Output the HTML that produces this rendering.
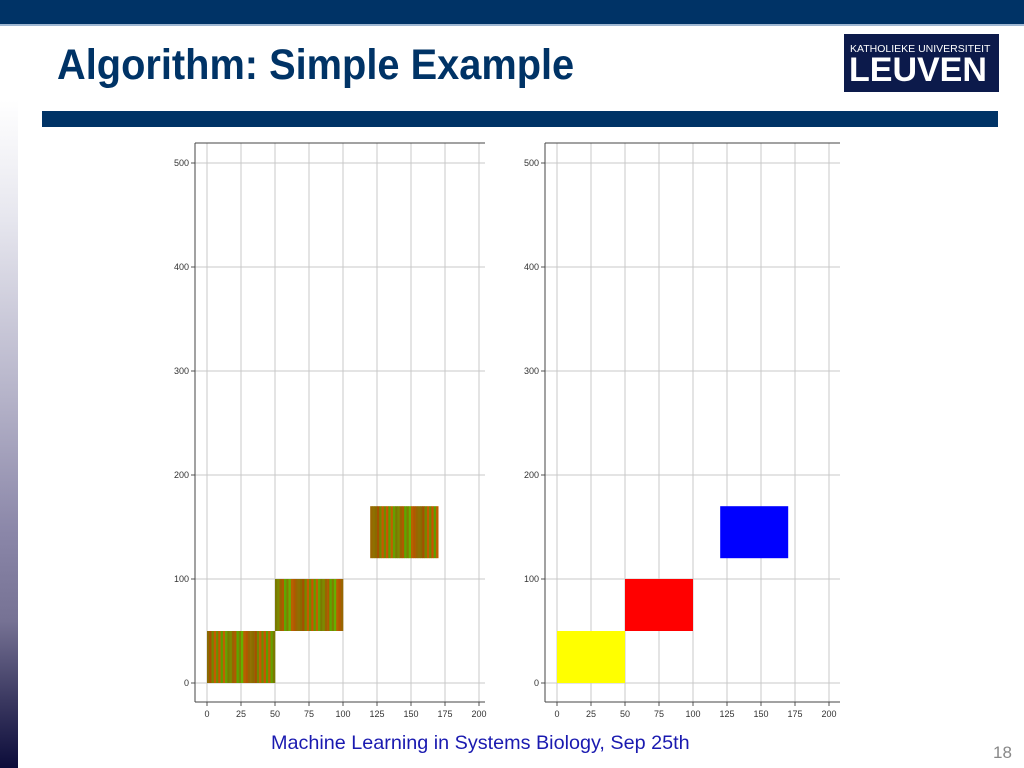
<!DOCTYPE html>
<html><head><meta charset="utf-8">
<style>
html,body{margin:0;padding:0;width:1024px;height:768px;overflow:hidden;background:#fff;font-family:"Liberation Sans",sans-serif;position:relative}
#topbar{position:absolute;left:0;top:0;width:1024px;height:24px;background:#003366;border-bottom:2px solid #9fb7d2}
#side{position:absolute;left:0;top:100px;width:18px;height:668px;background:linear-gradient(#ffffff 0%,#e6e6ee 18%,#b4b2c8 45%,#8a86a8 65%,#767294 78%,#3a3860 90%,#0c0c3a 100%)}
#title{position:absolute;left:57px;top:41px;font-size:43px;font-weight:bold;color:#003366;transform:scaleX(0.925);transform-origin:0 0;white-space:nowrap}
#logo{position:absolute;left:844px;top:34px;width:155px;height:58px;background:#0c1a4b;color:#fff}
#logo .a{position:absolute;left:6px;top:9px;font-size:10.5px}
#logo .b{position:absolute;left:5px;top:17px;font-size:34px;font-weight:bold}
#bar2{position:absolute;left:42px;top:111px;width:956px;height:16px;background:#003366}
#foot{position:absolute;left:271px;top:732px;font-size:19.8px;color:#1a1ab0;white-space:nowrap}
#pg{position:absolute;left:993px;top:743px;font-size:17px;color:#888}
svg{position:absolute;left:0;top:0}
</style></head><body>
<div id="topbar"></div>
<div id="side"></div>
<div id="title">Algorithm: Simple Example</div>
<div id="logo"><span class="a">KATHOLIEKE UNIVERSITEIT</span><span class="b">LEUVEN</span></div>
<div id="bar2"></div>
<svg id="chart" width="1024" height="768"></svg>
<div id="foot">Machine Learning in Systems Biology, Sep 25th</div>
<div id="pg">18</div>
<script>
const xTicks=[0,25,50,75,100,125,150,175,200];
const yTicks=[0,100,200,300,400,500];
const rectX0=[0,50,120];
const rectX1=[50,100,170];
const rectY0=[0,50,120];
const rectY1=[50,100,170];
const clusterColors=["#ffff00","#ff0000","#0000ff"];
const stripePattern=["#8a6a00","#c45a00","#5c9e00","#7a7a00","#b05a00","#66b000","#996600","#a55000","#6e8c00","#c06000","#7c8a00","#5aa800","#b86000","#8f7000","#728800","#c85400","#64a000","#9a6400","#7e8000","#b25800"];
const svg=document.getElementById('chart');
const NS='http://www.w3.org/2000/svg';
function mk(t,a){const e=document.createElementNS(NS,t);for(const k in a)e.setAttribute(k,a[k]);svg.appendChild(e);return e;}
function drawChart(ox,idx,wd){
  const sx=v=>ox+12+v*(272/200);
  const sy=v=>683-v*1.04;
  const left=ox, right=ox+wd, top=143, bottom=702;
  xTicks.forEach(t=>{const l=mk('line',{x1:sx(t),x2:sx(t),y1:top,y2:bottom,stroke:'#c8c8c8','stroke-width':1});
    
    
    mk('line',{x1:sx(t),x2:sx(t),y1:bottom,y2:bottom+4,stroke:'#555'});
    const tx=mk('text',{x:sx(t),y:bottom+15,'font-size':9,'text-anchor':'middle',fill:'#333','font-family':'Liberation Sans, sans-serif'});tx.textContent=t;
    
    });
  yTicks.forEach(t=>{const l=mk('line',{x1:left,x2:right,y1:sy(t),y2:sy(t),stroke:'#c8c8c8','stroke-width':1});
    
    
    mk('line',{x1:left-4,x2:left,y1:sy(t),y2:sy(t),stroke:'#555'});
    const tx=mk('text',{x:left-6,y:sy(t)+3,'font-size':9,'text-anchor':'end',fill:'#333','font-family':'Liberation Sans, sans-serif'});tx.textContent=t;
    
    });
  rectX0.forEach((x0,i)=>{
    const X0=sx(x0),X1=sx(rectX1[i]),Y0=sy(rectY1[i]),Y1=sy(rectY0[i]);
    if(idx===1){const r=mk('rect',{x:X0,y:Y0,width:X1-X0,height:Y1-Y0,fill:clusterColors[i]});
      
      }
    else{const n=30,w=(X1-X0)/n;
      for(let k=0;k<n;k++){const r=mk('rect',{x:X0+k*w,y:Y0,width:w+0.3,height:Y1-Y0,fill:stripePattern[(k*7+i*3)%stripePattern.length]});
        
        }}
  });
  mk('line',{x1:left,x2:left,y1:top,y2:bottom,stroke:'#444'});
  mk('line',{x1:left,x2:right,y1:bottom,y2:bottom,stroke:'#444'});
  mk('line',{x1:left,x2:right,y1:top,y2:top,stroke:'#444'});
}
drawChart(195,0,290);
drawChart(545,1,295);
</script>
</body></html>
